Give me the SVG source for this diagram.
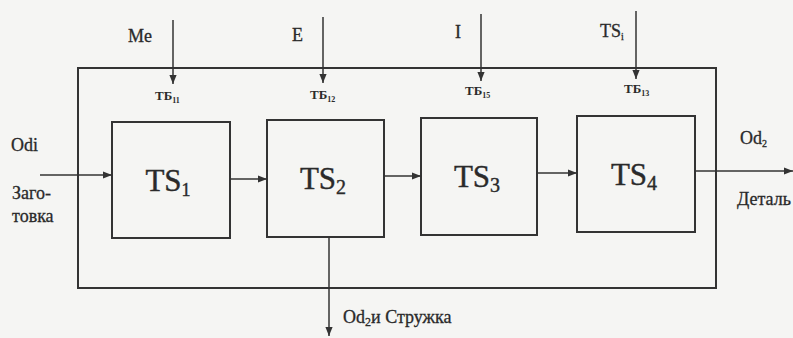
<svg xmlns="http://www.w3.org/2000/svg" width="793" height="338" viewBox="0 0 793 338">
  <defs>
    <marker id="arrow" viewBox="0 0 10 10" refX="10" refY="5" markerWidth="9" markerHeight="9" markerUnits="userSpaceOnUse" orient="auto">
      <path d="M0,1 L10,5 L0,9 Z" fill="#333"/>
    </marker>
    <style>
      .frame { fill: none; stroke: #333; stroke-width: 2; }
      .box { fill: none; stroke: #333; stroke-width: 2; }
      .flow { fill: none; stroke: #333; stroke-width: 1.5; marker-end: url(#arrow); }
      .ts { font-family: 'Liberation Serif', 'DejaVu Serif', serif; font-size: 31px; fill: #2a2a2a; stroke: #2a2a2a; stroke-width: 0.4; text-anchor: middle; }
      .lbl { font-family: 'Liberation Serif', 'DejaVu Serif', serif; font-size: 18px; fill: #2a2a2a; stroke: #2a2a2a; stroke-width: 0.3; }
      .tb { font-family: 'Liberation Serif', 'DejaVu Serif', serif; font-size: 13px; font-weight: bold; fill: #2a2a2a; }
      .sub { font-size: 10px; }
      .tbsub { font-size: 8px; }
    </style>
  </defs>
  <rect width="793" height="338" fill="#f5f5f3"/>

  <!-- enclosing system boundary -->
  <rect id="system" class="frame" x="78" y="68" width="638" height="220"/>

  <!-- process stages -->
  <g id="ts1">
    <rect class="box" x="112" y="122" width="118" height="116"/>
    <text class="ts" x="168" y="191">TS<tspan font-size="18" dy="5">1</tspan></text>
  </g>
  <g id="ts2">
    <rect class="box" x="267" y="120" width="117" height="117"/>
    <text class="ts" x="323" y="189">TS<tspan font-size="20" dy="5">2</tspan></text>
  </g>
  <g id="ts3">
    <rect class="box" x="421" y="118" width="116" height="117"/>
    <text class="ts" x="477" y="187">TS<tspan font-size="20" dy="5">3</tspan></text>
  </g>
  <g id="ts4">
    <rect class="box" x="577" y="116" width="118" height="116"/>
    <text class="ts" x="634" y="185">TS<tspan font-size="20" dy="5">4</tspan></text>
  </g>

  <!-- flows -->
  <g id="connectors">
    <line class="flow" x1="173" y1="20" x2="173" y2="84"/>
    <line class="flow" x1="323" y1="17" x2="323" y2="83"/>
    <line class="flow" x1="481" y1="14" x2="481" y2="81"/>
    <line class="flow" x1="636" y1="11" x2="636" y2="79"/>
    <line class="flow" x1="40" y1="175" x2="112" y2="175"/>
    <line class="flow" x1="230" y1="179" x2="267" y2="179"/>
    <line class="flow" x1="384" y1="176" x2="421" y2="176"/>
    <line class="flow" x1="537" y1="173" x2="577" y2="173"/>
    <line class="flow" x1="695" y1="171" x2="793" y2="171"/>
    <line class="flow" x1="329" y1="237" x2="329" y2="336"/>
  </g>

  <!-- input / output labels -->
  <g id="labels">
    <text class="lbl" x="128" y="42">Me</text>
    <text class="lbl" x="292" y="41">E</text>
    <text class="lbl" x="455" y="38">I</text>
    <text class="lbl" x="600" y="37">TS<tspan class="sub" dy="3">i</tspan></text>

    <text class="tb" x="155" y="100">TБ<tspan class="tbsub" dy="3">11</tspan></text>
    <text class="tb" x="310" y="99">TБ<tspan class="tbsub" dy="3">12</tspan></text>
    <text class="tb" x="465" y="95">TБ<tspan class="tbsub" dy="3">15</tspan></text>
    <text class="tb" x="624" y="93">TБ<tspan class="tbsub" dy="3">13</tspan></text>

    <text class="lbl" x="11" y="151">Odi</text>
    <text class="lbl" x="12" y="199" font-size="17">Заго-</text>
    <text class="lbl" x="12" y="222" font-size="17">товка</text>

    <text class="lbl" x="740" y="144">Od<tspan class="sub" dy="3">2</tspan></text>
    <text class="lbl" x="737" y="205" font-size="14">Деталь</text>

    <text class="lbl" x="343" y="323">Od<tspan font-size="12" dy="3">2</tspan><tspan dy="-3">и Стружка</tspan></text>
  </g>
</svg>
